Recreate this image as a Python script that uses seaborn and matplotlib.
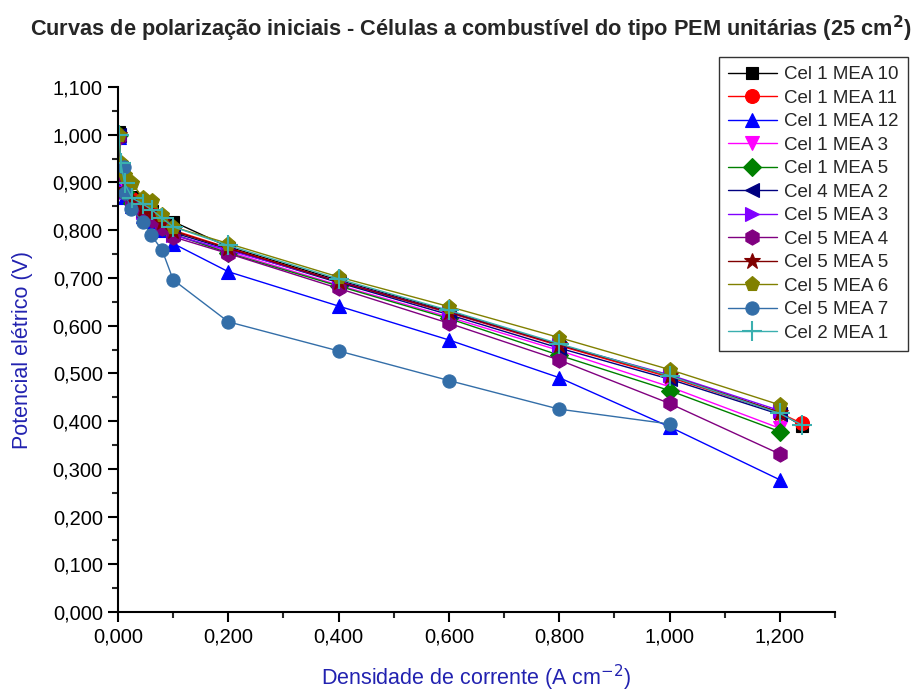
import matplotlib
matplotlib.use("Agg")
import matplotlib.pyplot as plt
import seaborn as sns
import numpy as np
from matplotlib.ticker import FuncFormatter, MultipleLocator

sns.set_theme(style="ticks")
plt.rcParams['font.family'] = ['Liberation Sans', 'DejaVu Sans']

# x grids (A cm^-2)
x_main = [0.002, 0.005, 0.012, 0.026, 0.045, 0.062, 0.08, 0.1, 0.2, 0.4, 0.6, 0.8, 1.0, 1.2]
x_long = x_main + [1.24]
x_mea7 = [0.01, 0.012, 0.024, 0.045, 0.06, 0.08, 0.1, 0.2, 0.4, 0.6, 0.8, 1.0]

labels = ["Cel 1 MEA 10", "Cel 1 MEA 11", "Cel 1 MEA 12", "Cel 1 MEA 3", "Cel 1 MEA 5",
          "Cel 4 MEA 2", "Cel 5 MEA 3", "Cel 5 MEA 4", "Cel 5 MEA 5", "Cel 5 MEA 6",
          "Cel 5 MEA 7", "Cel 2 MEA 1"]

cel1_mea10 = [1.005, 0.930, 0.895, 0.870, 0.850, 0.840, 0.825, 0.818, 0.765, 0.695, 0.630, 0.560, 0.495, 0.418, 0.390]
cel1_mea11 = [1.000, 0.930, 0.890, 0.865, 0.845, 0.835, 0.820, 0.800, 0.763, 0.692, 0.627, 0.558, 0.492, 0.417, 0.395]
cel1_mea12 = [0.995, 0.910, 0.870, 0.850, 0.830, 0.820, 0.800, 0.772, 0.713, 0.641, 0.570, 0.491, 0.388, 0.277]
cel1_mea3 = [0.990, 0.910, 0.875, 0.855, 0.835, 0.825, 0.810, 0.790, 0.755, 0.685, 0.618, 0.548, 0.472, 0.385]
cel1_mea5 = [1.000, 0.920, 0.880, 0.857, 0.838, 0.828, 0.812, 0.792, 0.752, 0.683, 0.615, 0.538, 0.464, 0.378]
cel4_mea2 = [1.000, 0.920, 0.885, 0.860, 0.840, 0.830, 0.815, 0.795, 0.760, 0.690, 0.623, 0.553, 0.488, 0.414]
cel5_mea3 = [0.990, 0.920, 0.880, 0.858, 0.838, 0.828, 0.812, 0.790, 0.758, 0.693, 0.628, 0.560, 0.497, 0.422]
cel5_mea4 = [0.995, 0.915, 0.878, 0.855, 0.835, 0.822, 0.805, 0.786, 0.751, 0.678, 0.605, 0.528, 0.437, 0.331]
cel5_mea5 = [1.000, 0.925, 0.885, 0.862, 0.845, 0.835, 0.818, 0.798, 0.762, 0.692, 0.628, 0.560, 0.495, 0.418]
cel5_mea6 = [1.000, 0.940, 0.915, 0.898, 0.867, 0.862, 0.832, 0.807, 0.772, 0.702, 0.640, 0.575, 0.508, 0.434]
cel5_mea7 = [0.933, 0.878, 0.844, 0.818, 0.790, 0.758, 0.696, 0.608, 0.547, 0.485, 0.425, 0.394]
cel2_mea1 = [1.000, 0.940, 0.898, 0.867, 0.855, 0.842, 0.825, 0.807, 0.768, 0.698, 0.632, 0.562, 0.495, 0.416, 0.392]

series = [
    (x_long, cel1_mea10, "#000000", "s", 9),
    (x_long, cel1_mea11, "#FF0000", "o", 10),
    (x_main, cel1_mea12, "#0000FF", "^", 10),
    (x_main, cel1_mea3, "#FF00FF", "v", 10),
    (x_main, cel1_mea5, "#008000", "D", 9),
    (x_main, cel4_mea2, "#000080", "<", 10),
    (x_main, cel5_mea3, "#8000FF", ">", 10),
    (x_main, cel5_mea4, "#800080", "h", 11),
    (x_main, cel5_mea5, "#800000", "*", 12),
    (x_main, cel5_mea6, "#808000", "p", 11),
    (x_mea7, cel5_mea7, "#336EA8", "o", 9.5),
    (x_long, cel2_mea1, "#3AAFAF", "+", 14),
]

fig = plt.figure(figsize=(9.2, 6.95), dpi=100)
ax = fig.add_axes([0.1283, 0.1194, 0.7793, 0.7554])

for (xs, ys, col, mk, ms), lab in zip(series, labels):
    sns.lineplot(x=xs, y=ys, ax=ax, color=col, marker=mk, markersize=ms,
                 markeredgecolor=col, markeredgewidth=1.5 if mk == "+" else 0.8,
                 linewidth=1.0, label=lab, sort=False, estimator=None)

ax.set_xlim(0, 1.3)
ax.set_ylim(0, 1.1)
ax.xaxis.set_major_locator(MultipleLocator(0.2))
ax.xaxis.set_minor_locator(MultipleLocator(0.1))
ax.yaxis.set_major_locator(MultipleLocator(0.1))
ax.yaxis.set_minor_locator(MultipleLocator(0.05))
fmt = FuncFormatter(lambda v, p: f"{v:.3f}".replace(".", ","))
ax.xaxis.set_major_formatter(fmt)
ax.yaxis.set_major_formatter(fmt)

for s in ["top", "right"]:
    ax.spines[s].set_visible(False)
for s in ["left", "bottom"]:
    ax.spines[s].set_linewidth(1.5)
    ax.spines[s].set_color("black")
ax.tick_params(which="major", direction="out", length=7, width=1.5, labelsize=14.5, colors="black", pad=4)
ax.tick_params(which="minor", direction="out", length=4, width=1.5)

ax.set_xlabel("Densidade de corrente (A cm$^{-2}$)", fontsize=15.5, color="#2222B0", labelpad=12)
ax.set_ylabel("Potencial elétrico (V)", fontsize=15.5, color="#2222B0", labelpad=14)

fig.text(0.512, 0.958, "Curvas de polarização iniciais - Células a combustível do tipo PEM unitárias (25 cm$^{\\mathbf{2}}$)",
         ha="center", va="center", fontsize=15.7, fontweight="bold",
         family=['Liberation Sans Narrow', 'Liberation Sans'])

leg = ax.legend(loc="upper right", bbox_to_anchor=(0.987, 0.918), bbox_transform=fig.transFigure,
                fontsize=13.5, frameon=True, fancybox=False, edgecolor="black",
                handlelength=2.6, handletextpad=0.4, labelspacing=0.34, borderaxespad=0,
                borderpad=0.5)
leg.get_frame().set_linewidth(1.0)

fig.savefig("out.png", dpi=100, facecolor="white")
